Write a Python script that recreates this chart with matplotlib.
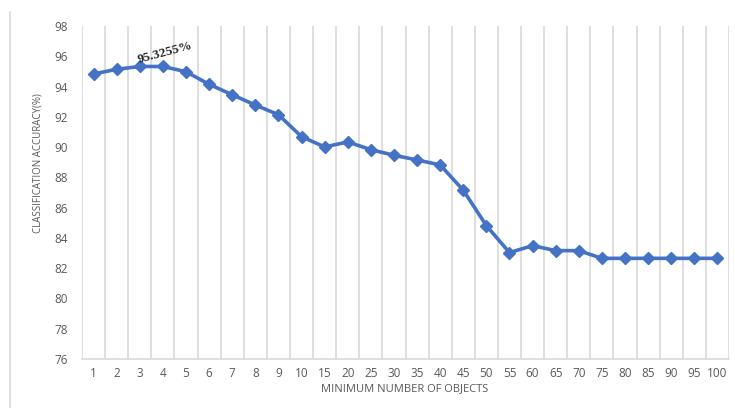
import matplotlib
matplotlib.use("Agg")
import matplotlib.pyplot as plt
from matplotlib.lines import Line2D

categories = ["1", "2", "3", "4", "5", "6", "7", "8", "9", "10", "15", "20", "25", "30",
              "35", "40", "45", "50", "55", "60", "65", "70", "75", "80", "85", "90", "95", "100"]
accuracy = [94.83, 95.14, 95.3255, 95.3255, 94.98, 94.15, 93.46, 92.78, 92.14, 90.69,
            90.01, 90.34, 89.83, 89.46, 89.15, 88.82, 87.15, 84.81, 83.03, 83.49,
            83.16, 83.16, 82.65, 82.65, 82.65, 82.65, 82.65, 82.65]
y_ticks = [76, 78, 80, 82, 84, 86, 88, 90, 92, 94, 96, 98]
peak_label = "95.3255%"

W, H = 735, 408
fig = plt.figure(figsize=(W / 100, H / 100), dpi=100)
ax = fig.add_axes([82 / W, 1 - 359 / H, (729 - 82) / W, (359 - 26) / H])

x = list(range(len(categories)))
ax.plot(x, accuracy, color="#4472C4", lw=2.6, marker="D", ms=6.5, zorder=3)

ax.set_xlim(-0.5, len(categories) - 0.5)
ax.set_ylim(76, 98)
ax.set_yticks(y_ticks)
ax.set_yticklabels([str(v) for v in y_ticks])
ax.set_xticks(x)
ax.set_xticklabels(categories)

# vertical gridlines at category boundaries
for b in range(len(categories) + 1):
    ax.axvline(b - 0.5, color="#D9D9D9", lw=1.2, zorder=1)

for s in ["top", "right", "left"]:
    ax.spines[s].set_visible(False)
ax.spines["bottom"].set_color("#D9D9D9")
ax.spines["bottom"].set_linewidth(1.2)
ax.tick_params(axis="both", length=0, colors="#595959", labelsize=8.5)
ax.tick_params(axis="x", pad=6)
ax.tick_params(axis="y", pad=10)
for lab in ax.get_xticklabels() + ax.get_yticklabels():
    lab.set_family("Open Sans")

ax.text(3.1, 96.25, peak_label, rotation=15, ha="center", va="center",
        fontsize=9.5, fontweight="bold", family=["Liberation Serif", "DejaVu Serif"],
        color="#262626")

fig.text(405 / W, 1 - 389 / H, "MINIMUM NUMBER OF OBJECTS", ha="center", va="center",
         fontsize=8, color="#595959", family="Open Sans")
fig.text(38 / W, 1 - 163 / H, "CLASSIFICATION ACCURACY(%)", ha="center", va="center",
         rotation=90, fontsize=7, color="#595959", family="Open Sans")

fig.add_artist(Line2D([10 / W, 10 / W], [0, 1 - 12 / H], transform=fig.transFigure,
                      color="#D9D9D9", lw=1.2))

fig.savefig("out.png", dpi=100)
